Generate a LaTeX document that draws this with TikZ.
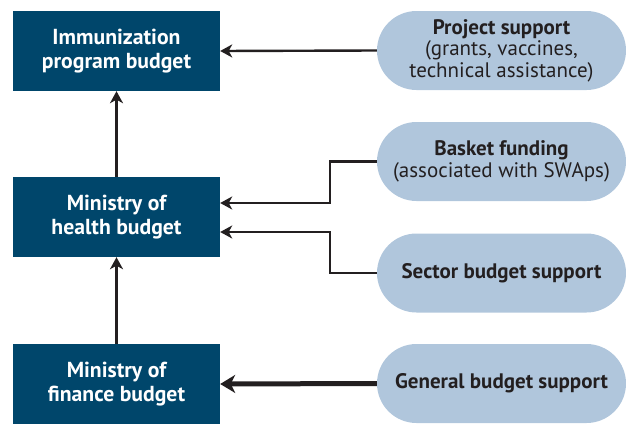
\documentclass[tikz,border=0pt]{standalone}
\usepackage{fontspec}
\setmainfont{PT Sans}
\usetikzlibrary{shapes.misc,arrows.meta}
\definecolor{boxblue}{RGB}{0,70,107}
\definecolor{pillblue}{RGB}{176,198,220}
\definecolor{ink}{RGB}{35,31,32}
\tikzset{
  x=1pt,y=-1pt,
  budgetbox/.style={fill=boxblue,draw=none,minimum width=207pt,minimum height=80pt,
    text=white,font=\fontsize{21.7}{24}\selectfont\bfseries,align=center,inner sep=0pt},
  pill/.style={rounded rectangle,fill=pillblue,draw=none,minimum width=249pt,minimum height=79pt,
    text=ink,font=\fontsize{21}{21.5}\selectfont,align=center,inner sep=0pt},
  arr/.style={draw=ink,line width=2.4pt,-{Stealth[length=12pt,width=13pt,inset=3.5pt]}},
  thickarr/.style={draw=ink,line width=5pt,-{Stealth[length=15pt,width=18pt,inset=4.5pt]}}
}
\begin{document}
\begin{tikzpicture}
\useasboundingbox (0,0) rectangle (626,423);
\node[budgetbox] (imm) at (116.5,51) {Immunization\\program budget};
\node[budgetbox] (moh) at (116.5,217) {Ministry of\\health budget};
\node[budgetbox] (mof) at (116.5,384) {Ministry of\\finance budget};
\node[pill] (proj) at (501.5,50.5) {\textbf{Project support}\\(grants, vaccines,\\technical assistance)};
\node[pill] (bask) at (501.5,161.5) {\textbf{Basket funding}\\(associated with SWAps)};
\node[pill] (sect) at (501.5,273) {\textbf{Sector budget support}};
\node[pill] (gen) at (501.5,383.5) {\textbf{General budget support}};
\coordinate (mohA) at ([yshift=14pt]moh.east);
\coordinate (mohB) at ([yshift=-15pt]moh.east);
\coordinate (bend) at (330,0);
\draw[arr] (proj.west) -- (imm.east);
\draw[arr] (bask.west) -| (bend |- mohA) -- (mohA);
\draw[arr] (sect.west) -| (bend |- mohB) -- (mohB);
\draw[thickarr] (gen.west) -- (mof.east);
\draw[arr] (mof.north) -- (moh.south);
\draw[arr] (moh.north) -- (imm.south);
\end{tikzpicture}
\end{document}
